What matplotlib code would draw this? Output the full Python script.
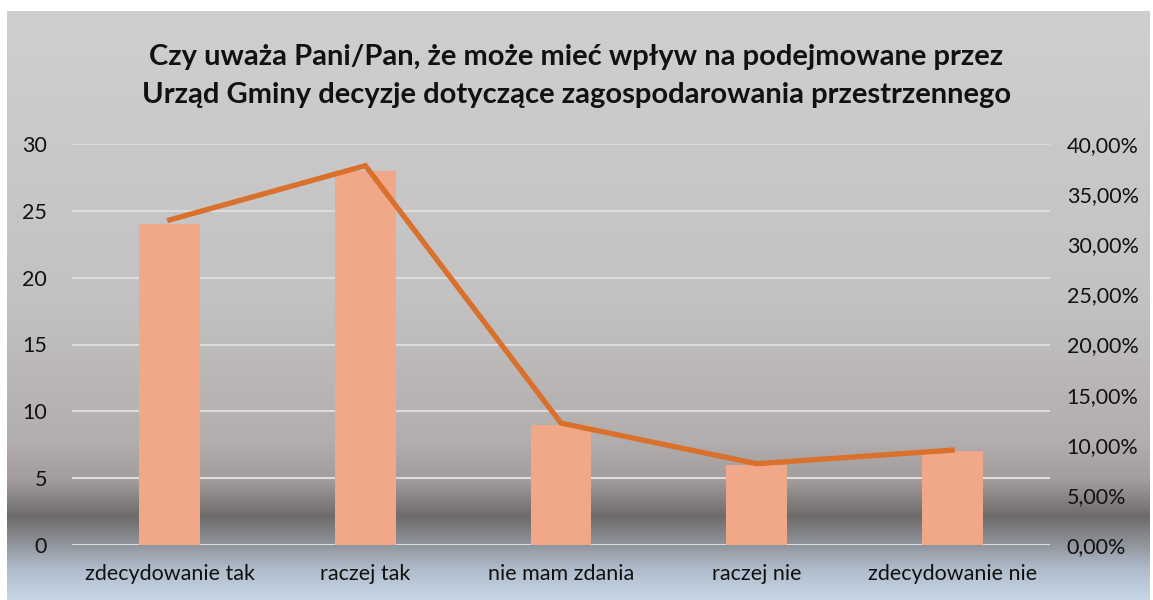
import matplotlib
matplotlib.use("Agg")
import matplotlib.pyplot as plt
import numpy as np
from matplotlib.colors import LinearSegmentedColormap
from matplotlib.ticker import FuncFormatter, MultipleLocator

categories = ["zdecydowanie tak", "raczej tak", "nie mam zdania", "raczej nie", "zdecydowanie nie"]
counts = [24, 28, 9, 6, 7]
shares = [0.3243, 0.3784, 0.1216, 0.0811, 0.0946]
title = "Czy uważa Pani/Pan, że może mieć wpływ na podejmowane przez\nUrząd Gminy decyzje dotyczące zagospodarowania przestrzennego"

W, H = 1153, 600
fig = plt.figure(figsize=(W / 100, H / 100), dpi=100)
fig.patch.set_facecolor("white")

# background gradient (frame)
bg = fig.add_axes([7 / W, 0, (1150 - 7) / W, (H - 11) / H], zorder=0)
bg.set_axis_off()
stops = [(0.0, "#d0cfd0"), (0.49, "#c3c1c1"), (0.73, "#b3aeae"),
         (0.80, "#a19b9b"), (0.86, "#6f6b6b"), (0.905, "#8e9299"),
         (0.95, "#afbccb"), (1.0, "#c6d5e3")]
cmap = LinearSegmentedColormap.from_list("bg", stops)
grad = np.linspace(0, 1, 600).reshape(-1, 1)
bg.imshow(grad, aspect="auto", cmap=cmap, extent=[0, 1, 0, 1], origin="upper")
bg.set_xlim(0, 1)
bg.set_ylim(0, 1)

font = "Lato"
ax = fig.add_axes([72 / W, 1 - 545 / H, (1050 - 72) / W, (545 - 144) / H], zorder=1)
ax.patch.set_alpha(0)
x = np.arange(len(categories))
ax.bar(x, counts, width=0.31, color="#f1a888", zorder=2)
ax.set_ylim(0, 30)
ax.set_xlim(-0.5, len(categories) - 0.5)
ax.yaxis.set_major_locator(MultipleLocator(5))
ax.grid(axis="y", color="#dcdcdc", linewidth=1.5, zorder=1)
ax.set_axisbelow(True)
for s in ax.spines.values():
    s.set_visible(False)
ax.tick_params(length=0, labelsize=15.5, colors="#111111", pad=18)
ax.tick_params(axis="x", pad=14)
ax.set_xticks(x)
ax.set_xticklabels(categories, fontfamily=font)
for lab in ax.get_yticklabels():
    lab.set_fontfamily(font)

ax2 = ax.twinx()
ax2.plot(x, shares, color="#d9702b", linewidth=3.8, solid_joinstyle="miter", zorder=3)
ax2.set_ylim(0, 0.4)
ax2.yaxis.set_major_locator(MultipleLocator(0.05))
ax2.yaxis.set_major_formatter(FuncFormatter(lambda v, p: f"{v*100:.2f}%".replace(".", ",")))
for s in ax2.spines.values():
    s.set_visible(False)
ax2.tick_params(length=0, labelsize=15.5, colors="#111111", pad=12)
for lab in ax2.get_yticklabels():
    lab.set_fontfamily(font)

fig.text(0.5, 1 - 76 / H, title, ha="center", va="center", fontsize=21,
         fontweight="bold", fontfamily=font, linespacing=1.55, color="#111111")

fig.savefig("out.png", dpi=100)
